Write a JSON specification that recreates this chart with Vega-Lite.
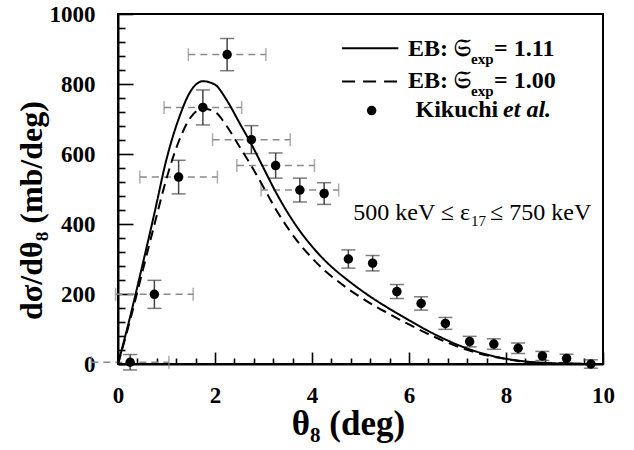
{
  "$schema": "https://vega.github.io/schema/vega-lite/v6.json",
  "width": 485,
  "height": 350,
  "autosize": "none",
  "padding": {"left": 118, "top": 14, "right": 31, "bottom": 86},
  "background": "white",
  "config": {
    "view": {"stroke": "black", "strokeWidth": 2},
    "axis": {
      "domainColor": "black", "domainWidth": 2, "tickColor": "black", "tickWidth": 1.6, "grid": false,
      "labelFont": "Liberation Serif", "labelFontWeight": "bold", "labelFontSize": 23, "labelColor": "black",
      "labelOverlap": false, "labelFlush": false,
      "titleFont": "Liberation Serif", "titleFontWeight": "bold", "titleFontSize": 35, "titleColor": "black"
    }
  },
  "datasets": {
    "kikuchi": [
      {"theta": 0.25, "sigma": 5, "lo": -17, "hi": 27, "xlo": -0.55, "xhi": 1.05},
      {"theta": 0.75, "sigma": 199, "lo": 159, "hi": 239, "xlo": -0.05, "xhi": 1.55},
      {"theta": 1.25, "sigma": 534, "lo": 486, "hi": 582, "xlo": 0.45, "xhi": 2.05},
      {"theta": 1.75, "sigma": 733, "lo": 683, "hi": 783, "xlo": 0.95, "xhi": 2.55},
      {"theta": 2.25, "sigma": 884, "lo": 838, "hi": 930, "xlo": 1.45, "xhi": 3.05},
      {"theta": 2.75, "sigma": 641, "lo": 601, "hi": 681, "xlo": 1.95, "xhi": 3.55},
      {"theta": 3.25, "sigma": 567, "lo": 531, "hi": 603, "xlo": 2.45, "xhi": 4.05},
      {"theta": 3.75, "sigma": 497, "lo": 463, "hi": 531, "xlo": 2.95, "xhi": 4.55},
      {"theta": 4.25, "sigma": 487, "lo": 456, "hi": 518},
      {"theta": 4.75, "sigma": 300, "lo": 274, "hi": 326},
      {"theta": 5.25, "sigma": 288, "lo": 266, "hi": 310},
      {"theta": 5.75, "sigma": 207, "lo": 187, "hi": 227},
      {"theta": 6.25, "sigma": 173, "lo": 154, "hi": 192},
      {"theta": 6.75, "sigma": 116, "lo": 99, "hi": 133},
      {"theta": 7.25, "sigma": 64, "lo": 49, "hi": 79},
      {"theta": 7.75, "sigma": 57, "lo": 42, "hi": 72},
      {"theta": 8.25, "sigma": 45, "lo": 30, "hi": 60},
      {"theta": 8.75, "sigma": 23, "lo": 10, "hi": 36},
      {"theta": 9.25, "sigma": 16, "lo": 4, "hi": 28},
      {"theta": 9.75, "sigma": 0, "lo": -12, "hi": 12}
    ],
    "curves": [
      {"model": "EB 1.11", "theta": 0, "sigma": 0},
      {"model": "EB 1.11", "theta": 0.25, "sigma": 135},
      {"model": "EB 1.11", "theta": 0.5, "sigma": 280},
      {"model": "EB 1.11", "theta": 0.75, "sigma": 430},
      {"model": "EB 1.11", "theta": 1.0, "sigma": 585},
      {"model": "EB 1.11", "theta": 1.25, "sigma": 700},
      {"model": "EB 1.11", "theta": 1.5, "sigma": 780},
      {"model": "EB 1.11", "theta": 1.75, "sigma": 808},
      {"model": "EB 1.11", "theta": 2.0, "sigma": 798},
      {"model": "EB 1.11", "theta": 2.25, "sigma": 752},
      {"model": "EB 1.11", "theta": 2.5, "sigma": 690},
      {"model": "EB 1.11", "theta": 2.75, "sigma": 628},
      {"model": "EB 1.11", "theta": 3.0, "sigma": 560},
      {"model": "EB 1.11", "theta": 3.25, "sigma": 492},
      {"model": "EB 1.11", "theta": 3.5, "sigma": 432},
      {"model": "EB 1.11", "theta": 3.75, "sigma": 380},
      {"model": "EB 1.11", "theta": 4.0, "sigma": 336},
      {"model": "EB 1.11", "theta": 4.25, "sigma": 298},
      {"model": "EB 1.11", "theta": 4.5, "sigma": 266},
      {"model": "EB 1.11", "theta": 4.75, "sigma": 238},
      {"model": "EB 1.11", "theta": 5.0, "sigma": 212},
      {"model": "EB 1.11", "theta": 5.25, "sigma": 188},
      {"model": "EB 1.11", "theta": 5.5, "sigma": 166},
      {"model": "EB 1.11", "theta": 5.75, "sigma": 145},
      {"model": "EB 1.11", "theta": 6.0, "sigma": 125},
      {"model": "EB 1.11", "theta": 6.5, "sigma": 87},
      {"model": "EB 1.11", "theta": 7.0, "sigma": 55},
      {"model": "EB 1.11", "theta": 7.5, "sigma": 31},
      {"model": "EB 1.11", "theta": 8.0, "sigma": 15},
      {"model": "EB 1.11", "theta": 8.5, "sigma": 6},
      {"model": "EB 1.11", "theta": 9.0, "sigma": 2},
      {"model": "EB 1.11", "theta": 9.5, "sigma": 0.5},
      {"model": "EB 1.11", "theta": 9.75, "sigma": 0},
      {"model": "EB 1.00", "theta": 0, "sigma": 0},
      {"model": "EB 1.00", "theta": 0.25, "sigma": 125},
      {"model": "EB 1.00", "theta": 0.5, "sigma": 262},
      {"model": "EB 1.00", "theta": 0.75, "sigma": 398},
      {"model": "EB 1.00", "theta": 1.0, "sigma": 530},
      {"model": "EB 1.00", "theta": 1.25, "sigma": 635},
      {"model": "EB 1.00", "theta": 1.5, "sigma": 705},
      {"model": "EB 1.00", "theta": 1.75, "sigma": 730},
      {"model": "EB 1.00", "theta": 2.0, "sigma": 720},
      {"model": "EB 1.00", "theta": 2.25, "sigma": 678},
      {"model": "EB 1.00", "theta": 2.5, "sigma": 622},
      {"model": "EB 1.00", "theta": 2.75, "sigma": 566},
      {"model": "EB 1.00", "theta": 3.0, "sigma": 505},
      {"model": "EB 1.00", "theta": 3.25, "sigma": 443},
      {"model": "EB 1.00", "theta": 3.5, "sigma": 389},
      {"model": "EB 1.00", "theta": 3.75, "sigma": 342},
      {"model": "EB 1.00", "theta": 4.0, "sigma": 303},
      {"model": "EB 1.00", "theta": 4.25, "sigma": 268},
      {"model": "EB 1.00", "theta": 4.5, "sigma": 240},
      {"model": "EB 1.00", "theta": 4.75, "sigma": 214},
      {"model": "EB 1.00", "theta": 5.0, "sigma": 191},
      {"model": "EB 1.00", "theta": 5.25, "sigma": 169},
      {"model": "EB 1.00", "theta": 5.5, "sigma": 150},
      {"model": "EB 1.00", "theta": 5.75, "sigma": 131},
      {"model": "EB 1.00", "theta": 6.0, "sigma": 113},
      {"model": "EB 1.00", "theta": 6.5, "sigma": 79},
      {"model": "EB 1.00", "theta": 7.0, "sigma": 50},
      {"model": "EB 1.00", "theta": 7.5, "sigma": 28},
      {"model": "EB 1.00", "theta": 8.0, "sigma": 14},
      {"model": "EB 1.00", "theta": 8.5, "sigma": 5},
      {"model": "EB 1.00", "theta": 9.0, "sigma": 2},
      {"model": "EB 1.00", "theta": 9.5, "sigma": 0.5},
      {"model": "EB 1.00", "theta": 9.75, "sigma": 0}
    ]
  },
  "resolve": {"axis": {"x": "independent", "y": "independent"}},
  "layer": [
    {
      "layer": [
        {
          "data": {"name": "kikuchi"},
          "transform": [{"filter": "isValid(datum.xlo)"}],
          "mark": {"type": "rule", "color": "#8a8a8a", "strokeWidth": 1.5, "strokeDash": [7, 5]},
          "encoding": {
            "x": {
              "field": "xlo", "type": "quantitative",
              "scale": {"domain": [0, 10], "nice": false, "zero": false},
              "axis": {
                "orient": "bottom",
                "values": [0, 2, 4, 6, 8, 10],
                "format": "d",
                "tickSize": -12,
                "labelPadding": 32,
                "title": "θ₈ (deg)",
                "titleX": 230,
                "titleY": 59,
                "titleBaseline": "middle"
              }
            },
            "x2": {"field": "xhi"},
            "y": {
              "field": "sigma", "type": "quantitative",
              "scale": {"domain": [0, 1000], "nice": false, "zero": false},
              "axis": {
                "orient": "left",
                "values": [0, 200, 400, 600, 800, 1000],
                "format": "d",
                "tickSize": -15,
                "labelPadding": 38,
                "title": "dσ/dθ₈ (mb/deg)",
                "titleFontSize": 32,
                "titleX": -87,
                "titleY": 196,
                "titleBaseline": "middle"
              }
            }
          }
        },
        {
          "data": {"name": "kikuchi"},
          "transform": [{"filter": "isValid(datum.xlo)"}],
          "mark": {"type": "tick", "orient": "vertical", "color": "#8a8a8a", "size": 13, "thickness": 1.5},
          "encoding": {"x": {"field": "xlo", "type": "quantitative"}, "y": {"field": "sigma", "type": "quantitative"}}
        },
        {
          "data": {"name": "kikuchi"},
          "transform": [{"filter": "isValid(datum.xhi)"}],
          "mark": {"type": "tick", "orient": "vertical", "color": "#8a8a8a", "size": 13, "thickness": 1.5},
          "encoding": {"x": {"field": "xhi", "type": "quantitative"}, "y": {"field": "sigma", "type": "quantitative"}}
        },
        {
          "data": {"name": "kikuchi"},
          "mark": {"type": "rule", "color": "#444444", "strokeWidth": 1.5},
          "encoding": {"x": {"field": "theta", "type": "quantitative"}, "y": {"field": "lo", "type": "quantitative"}, "y2": {"field": "hi"}}
        },
        {
          "data": {"name": "kikuchi"},
          "mark": {"type": "tick", "orient": "horizontal", "color": "#444444", "size": 14, "thickness": 1.5},
          "encoding": {"x": {"field": "theta", "type": "quantitative"}, "y": {"field": "lo", "type": "quantitative"}}
        },
        {
          "data": {"name": "kikuchi"},
          "mark": {"type": "tick", "orient": "horizontal", "color": "#444444", "size": 14, "thickness": 1.5},
          "encoding": {"x": {"field": "theta", "type": "quantitative"}, "y": {"field": "hi", "type": "quantitative"}}
        },
        {
          "data": {"name": "curves"},
          "mark": {"type": "line", "color": "black", "strokeWidth": 2, "interpolate": "monotone"},
          "encoding": {
            "x": {"field": "theta", "type": "quantitative"},
            "y": {"field": "sigma", "type": "quantitative"},
            "detail": {"field": "model"},
            "strokeDash": {"field": "model", "type": "nominal", "scale": {"domain": ["EB 1.11", "EB 1.00"], "range": [[1, 0], [10, 6]]}, "legend": null}
          }
        },
        {
          "data": {"name": "kikuchi"},
          "mark": {"type": "circle", "color": "black", "opacity": 1, "size": 90},
          "encoding": {"x": {"field": "theta", "type": "quantitative"}, "y": {"field": "sigma", "type": "quantitative"}}
        },
        {
          "data": {"values": [{}]},
          "mark": {"type": "rule", "color": "black", "strokeWidth": 2},
          "encoding": {"x": {"datum": 4.62}, "x2": {"datum": 5.78}, "y": {"datum": 902}}
        },
        {
          "data": {"values": [{}]},
          "mark": {"type": "rule", "color": "black", "strokeWidth": 2, "strokeDash": [13, 8]},
          "encoding": {"x": {"datum": 4.62}, "x2": {"datum": 5.78}, "y": {"datum": 807}}
        },
        {
          "data": {"values": [{}]},
          "mark": {"type": "circle", "color": "black", "opacity": 1, "size": 90},
          "encoding": {"x": {"datum": 5.23}, "y": {"datum": 724}}
        },
        {
          "data": {"values": [{}]},
          "mark": {"type": "text", "text": "EB: 𝔖", "align": "right", "baseline": "alphabetic", "font": "Liberation Serif", "fontWeight": "bold", "fontSize": 24, "color": "black"},
          "encoding": {"x": {"datum": 7.28}, "y": {"datum": 880}}
        },
        {
          "data": {"values": [{}]},
          "mark": {"type": "text", "text": "exp", "align": "left", "baseline": "alphabetic", "dy": 8, "font": "Liberation Serif", "fontWeight": "bold", "fontSize": 15, "color": "black"},
          "encoding": {"x": {"datum": 7.28}, "y": {"datum": 880}}
        },
        {
          "data": {"values": [{}]},
          "mark": {"type": "text", "text": "= 1.11", "align": "left", "baseline": "alphabetic", "dx": 23, "font": "Liberation Serif", "fontWeight": "bold", "fontSize": 24, "color": "black"},
          "encoding": {"x": {"datum": 7.28}, "y": {"datum": 880}}
        },
        {
          "data": {"values": [{}]},
          "mark": {"type": "text", "text": "EB: 𝔖", "align": "right", "baseline": "alphabetic", "font": "Liberation Serif", "fontWeight": "bold", "fontSize": 24, "color": "black"},
          "encoding": {"x": {"datum": 7.28}, "y": {"datum": 788}}
        },
        {
          "data": {"values": [{}]},
          "mark": {"type": "text", "text": "exp", "align": "left", "baseline": "alphabetic", "dy": 8, "font": "Liberation Serif", "fontWeight": "bold", "fontSize": 15, "color": "black"},
          "encoding": {"x": {"datum": 7.28}, "y": {"datum": 788}}
        },
        {
          "data": {"values": [{}]},
          "mark": {"type": "text", "text": "= 1.00", "align": "left", "baseline": "alphabetic", "dx": 23, "font": "Liberation Serif", "fontWeight": "bold", "fontSize": 24, "color": "black"},
          "encoding": {"x": {"datum": 7.28}, "y": {"datum": 788}}
        },
        {
          "data": {"values": [{}]},
          "mark": {"type": "text", "text": "Kikuchi", "align": "right", "baseline": "alphabetic", "font": "Liberation Serif", "fontWeight": "bold", "fontSize": 24, "color": "black"},
          "encoding": {"x": {"datum": 7.84}, "y": {"datum": 707}}
        },
        {
          "data": {"values": [{}]},
          "mark": {"type": "text", "text": "et al.", "align": "left", "baseline": "alphabetic", "font": "Liberation Serif", "fontWeight": "bold", "fontStyle": "italic", "fontSize": 24, "color": "black"},
          "encoding": {"x": {"datum": 7.94}, "y": {"datum": 707}}
        },
        {
          "data": {"values": [{}]},
          "mark": {"type": "text", "text": "500 keV ≤ ε", "align": "right", "baseline": "alphabetic", "font": "Liberation Serif", "fontSize": 24, "color": "black"},
          "encoding": {"x": {"datum": 7.26}, "y": {"datum": 411}}
        },
        {
          "data": {"values": [{}]},
          "mark": {"type": "text", "text": "17", "align": "left", "baseline": "alphabetic", "dx": 1, "dy": 6, "font": "Liberation Serif", "fontSize": 15, "color": "black"},
          "encoding": {"x": {"datum": 7.26}, "y": {"datum": 411}}
        },
        {
          "data": {"values": [{}]},
          "mark": {"type": "text", "text": "≤ 750 keV", "align": "left", "baseline": "alphabetic", "dx": 20, "font": "Liberation Serif", "fontSize": 24, "color": "black"},
          "encoding": {"x": {"datum": 7.26}, "y": {"datum": 411}}
        }
      ]
    },
    {
      "data": {"name": "kikuchi"},
      "mark": {"type": "point", "opacity": 0},
      "encoding": {
        "x": {
          "field": "theta", "type": "quantitative",
          "axis": {
            "orient": "bottom", "offset": -6,
            "values": [0.4, 0.8, 1.2, 1.6, 2.4, 2.8, 3.2, 3.6, 4.4, 4.8, 5.2, 5.6, 6.4, 6.8, 7.2, 7.6, 8.4, 8.8, 9.2, 9.6],
            "tickSize": 6, "labels": false, "domain": false, "title": null
          }
        },
        "y": {
          "field": "sigma", "type": "quantitative",
          "axis": {
            "orient": "left", "offset": -7,
            "values": [40, 80, 120, 160, 240, 280, 320, 360, 440, 480, 520, 560, 640, 680, 720, 760, 840, 880, 920, 960],
            "tickSize": 7, "labels": false, "domain": false, "title": null
          }
        }
      }
    }
  ]
}
